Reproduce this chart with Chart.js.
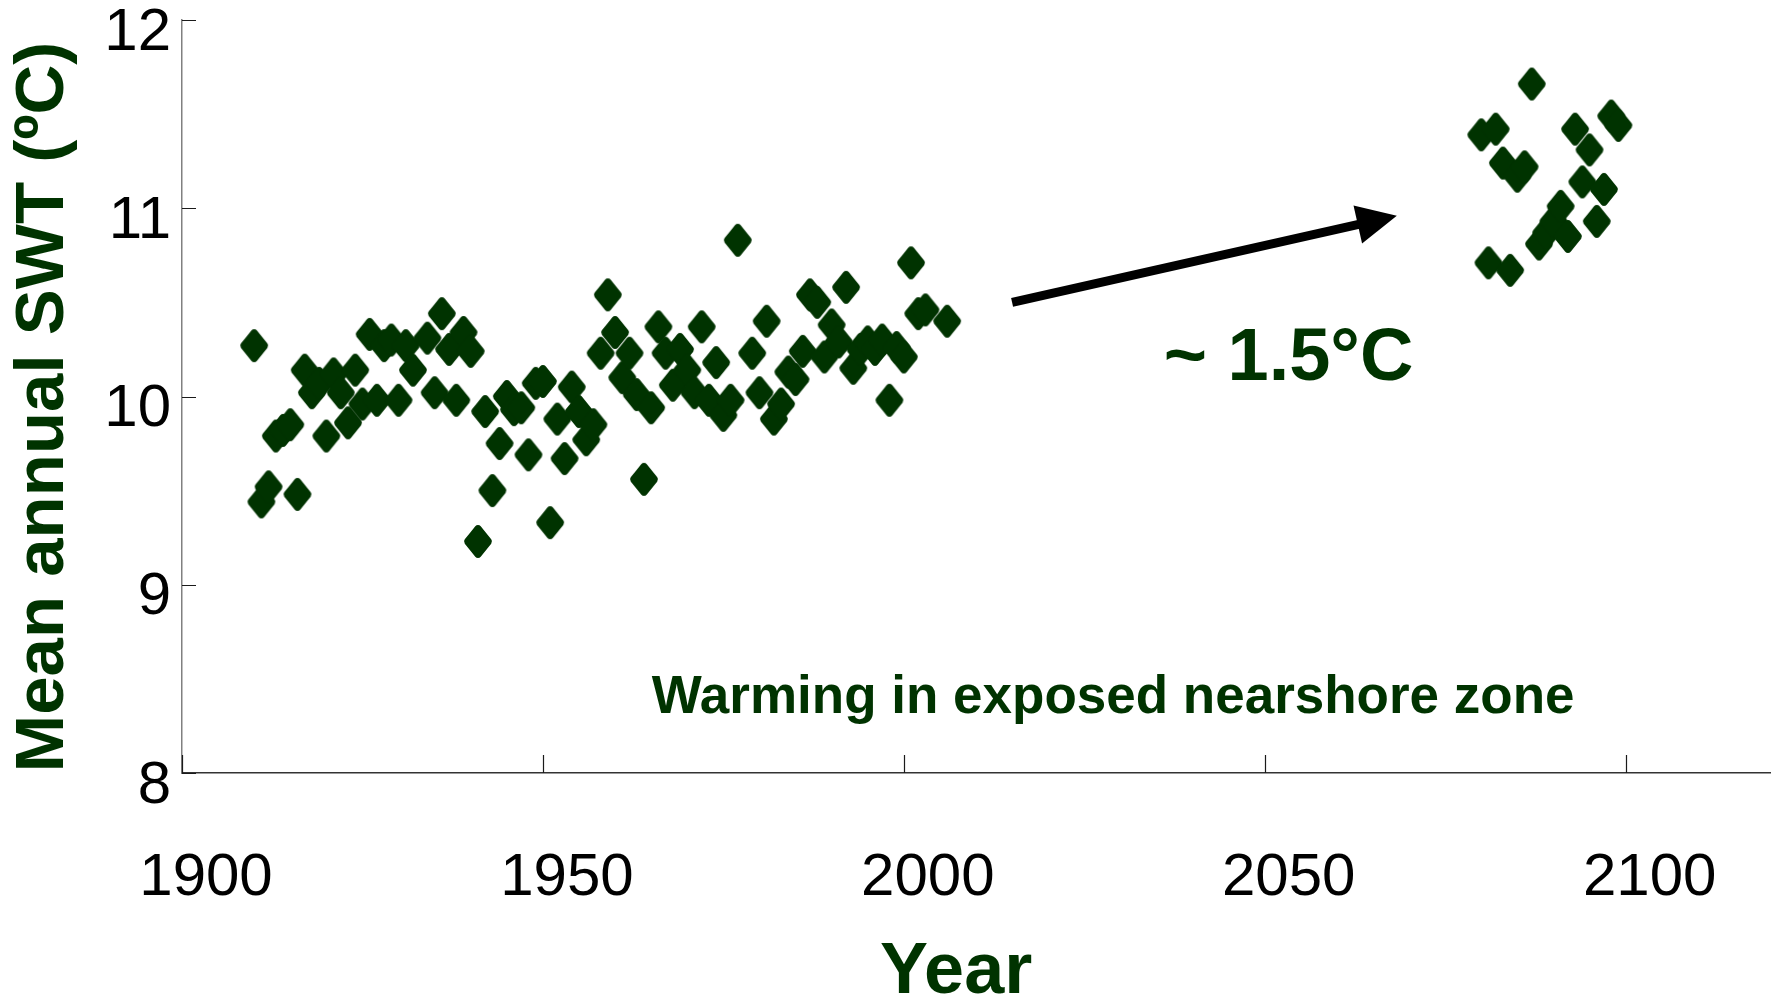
<!DOCTYPE html>
<html>
<head>
<meta charset="utf-8">
<title>Mean annual SWT</title>
<script src="https://cdn.jsdelivr.net/npm/chart.js@4.4.1/dist/chart.umd.min.js"></script>
<style>
  html, body { margin: 0; padding: 0; background: #ffffff; }
  canvas { display: block; }
</style>
</head>
<body>
<canvas id="swtChart" width="1772" height="998"></canvas>
<script>
// Observed mean annual surface water temperature (°C)
const obsYears = [
  1910, 1911, 1912, 1913, 1914, 1915, 1916, 1917, 1918, 1919,
  1920, 1921, 1922, 1923, 1924, 1925, 1926, 1927, 1928, 1929,
  1930, 1931, 1932, 1934, 1935, 1936, 1937, 1938, 1939, 1940,
  1941, 1942, 1943, 1944, 1945, 1946, 1947, 1948, 1949, 1950,
  1951, 1952, 1953, 1954, 1955, 1956, 1957, 1958, 1959, 1960,
  1961, 1962, 1963, 1964, 1965, 1966, 1967, 1968, 1969, 1970,
  1971, 1972, 1973, 1974, 1975, 1976, 1977, 1979, 1980, 1981,
  1982, 1983, 1984, 1985, 1986, 1987, 1988, 1989, 1990, 1991,
  1992, 1993, 1994, 1995, 1996, 1997, 1998, 1999, 2000, 2001,
  2002, 2003, 2006
];
const obsSWT = [
  10.27, 9.44, 9.52, 9.79, 9.82, 9.85, 9.48, 10.14, 10.02, 10.07,
  9.79, 10.12, 10.02, 9.86, 10.14, 9.96, 10.33, 9.98, 10.27, 10.30,
  9.98, 10.27, 10.14, 10.31, 10.02, 10.44, 10.25, 9.98, 10.34, 10.24,
  9.23, 9.92, 9.50, 9.75, 10.00, 9.93, 9.94, 9.69, 10.07, 10.08,
  9.33, 9.88, 9.67, 10.05, 9.92, 9.77, 9.85, 10.23, 10.54, 10.34,
  10.10, 10.23, 10.01, 9.56, 9.94, 10.37, 10.23, 10.06, 10.25, 10.14,
  10.02, 10.37, 9.98, 10.18, 9.90, 9.98, 10.83, 10.23, 10.02, 10.40,
  9.88, 9.96, 10.13, 10.09, 10.24, 10.54, 10.50, 10.21, 10.38, 10.29,
  10.58, 10.15, 10.25, 10.29, 10.25, 10.30, 9.98, 10.26, 10.21, 10.71,
  10.44, 10.46, 10.40
];

// Projected late-century values
const projYears = [
  2080, 2081, 2082, 2083, 2084, 2085, 2086, 2087, 2088, 2089,
  2090, 2091, 2092, 2093, 2094, 2095, 2096, 2097, 2098, 2099
];
const projSWT = [
  11.39, 10.71, 11.42, 11.24, 10.67, 11.17, 11.22, 11.66, 10.81, 10.87,
  10.93, 11.01, 10.85, 11.42, 11.14, 11.31, 10.93, 11.10, 11.49, 11.44
];

// Axis tick values
const yearTicks = [1900, 1950, 2000, 2050, 2100];
const swtTicks = [8, 9, 10, 11, 12];

// Annotation anchors, in axis units (year, °C)
const arrowFrom = { year: 2015, swt: 10.50 };
const arrowTo = { year: 2068.3, swt: 10.96 };
const deltaLabel = { text: '~ 1.5°C', year: 2053.3, swt: 10.09 };
const zoneLabel = { text: 'Warming in exposed nearshore zone', year: 2029.0, swt: 8.32 };

const xTitle = 'Year';
const yTitle = 'Mean annual SWT (ºC)';

const GREEN = '#003300';
const FONT = "'Liberation Sans', Arial, Helvetica, sans-serif";

// Rounded diamond marker, slightly taller than wide
function makeDiamond(w, h, r, color) {
  const c = document.createElement('canvas');
  c.width = w;
  c.height = h;
  const g = c.getContext('2d');
  const pts = [[w / 2, 0], [w, h / 2], [w / 2, h], [0, h / 2]];
  const start = [(pts[3][0] + pts[0][0]) / 2, (pts[3][1] + pts[0][1]) / 2];
  g.beginPath();
  g.moveTo(start[0], start[1]);
  for (let i = 0; i < 4; i++) {
    const p = pts[i];
    const n = pts[(i + 1) % 4];
    g.arcTo(p[0], p[1], n[0], n[1], r);
  }
  g.closePath();
  g.fillStyle = color;
  g.fill();
  return c;
}
const diamond = makeDiamond(30, 37, 3.5, GREEN);

const toPoints = (xs, ys) => xs.map((v, i) => ({ x: v, y: ys[i] }));

// Inward tick marks, axis titles, arrow and text annotations
const overlay = {
  id: 'overlay',
  afterDatasetsDraw(chart) {
    const { ctx, chartArea: a, scales: { x, y } } = chart;
    ctx.save();

    ctx.lineWidth = 1.2;
    ctx.strokeStyle = '#1a1a1a';
    ctx.beginPath();
    yearTicks.forEach(v => {
      const px = Math.round(x.getPixelForValue(v)) + 0.5;
      ctx.moveTo(px, a.bottom);
      ctx.lineTo(px, a.bottom - 18);
    });
    swtTicks.forEach(v => {
      const py = Math.round(y.getPixelForValue(v)) + 0.5;
      ctx.moveTo(a.left, py);
      ctx.lineTo(a.left + 14, py);
    });
    ctx.stroke();

    // arrow
    const x0 = x.getPixelForValue(arrowFrom.year), y0 = y.getPixelForValue(arrowFrom.swt);
    const x1 = x.getPixelForValue(arrowTo.year), y1 = y.getPixelForValue(arrowTo.swt);
    const ang = Math.atan2(y1 - y0, x1 - x0);
    const headLen = 40, headHalf = 19.5;
    const cs = Math.cos(ang), sn = Math.sin(ang);
    const bx = x1 - headLen * cs, by = y1 - headLen * sn;
    ctx.strokeStyle = '#000';
    ctx.fillStyle = '#000';
    ctx.lineWidth = 9;
    ctx.lineCap = 'butt';
    ctx.beginPath();
    ctx.moveTo(x0, y0);
    ctx.lineTo(bx + 2 * cs, by + 2 * sn);
    ctx.stroke();
    ctx.beginPath();
    ctx.moveTo(x1, y1);
    ctx.lineTo(bx - headHalf * sn, by + headHalf * cs);
    ctx.lineTo(bx + headHalf * sn, by - headHalf * cs);
    ctx.closePath();
    ctx.fill();

    // in-plot labels
    ctx.fillStyle = GREEN;
    ctx.textAlign = 'center';
    ctx.textBaseline = 'alphabetic';
    ctx.font = 'bold 74px ' + FONT;
    ctx.fillText(deltaLabel.text, x.getPixelForValue(deltaLabel.year), y.getPixelForValue(deltaLabel.swt));
    ctx.font = 'bold 53px ' + FONT;
    ctx.fillText(zoneLabel.text, x.getPixelForValue(zoneLabel.year), y.getPixelForValue(zoneLabel.swt));

    // axis titles
    ctx.font = 'bold 72px ' + FONT;
    ctx.fillText(xTitle, a.left + 0.4875 * (a.right - a.left), chart.height - 5);
    ctx.save();
    ctx.translate(63, a.top + 0.514 * (a.bottom - a.top));
    ctx.rotate(-Math.PI / 2);
    ctx.font = 'bold 69px ' + FONT;
    ctx.fillText(yTitle, 0, 0);
    ctx.restore();

    ctx.restore();
  }
};

new Chart(document.getElementById('swtChart'), {
  type: 'scatter',
  data: {
    datasets: [
      {
        label: 'Observed',
        data: toPoints(obsYears, obsSWT),
        pointStyle: diamond,
        pointRadius: 14,
        backgroundColor: GREEN,
        borderColor: GREEN
      },
      {
        label: 'Projected',
        data: toPoints(projYears, projSWT),
        pointStyle: diamond,
        pointRadius: 14,
        backgroundColor: GREEN,
        borderColor: GREEN
      }
    ]
  },
  options: {
    responsive: false,
    animation: false,
    events: [],
    layout: { autoPadding: false, padding: { left: 0, top: 20, right: 2, bottom: 0 } },
    plugins: {
      legend: { display: false },
      tooltip: { enabled: false }
    },
    scales: {
      x: {
        type: 'linear',
        position: 'bottom',
        min: 1900,
        max: 2120,
        afterBuildTicks: s => { s.ticks = yearTicks.map(v => ({ value: v })); },
        afterFit: s => { s.height = 225; s.paddingLeft = 0; s.paddingRight = 0; },
        ticks: {
          color: '#000',
          font: { family: FONT, size: 60 },
          labelOffset: 24,
          padding: 69,
          maxRotation: 0,
          autoSkip: false,
          callback: v => String(v)
        },
        grid: { display: false, drawOnChartArea: false, drawTicks: false },
        border: { display: true, color: '#333333', width: 1.5 },
        title: { display: false }
      },
      y: {
        type: 'linear',
        position: 'left',
        min: 8,
        max: 12,
        afterBuildTicks: s => { s.ticks = swtTicks.map(v => ({ value: v })); },
        afterFit: s => { s.width = 182; s.paddingTop = 0; s.paddingBottom = 0; },
        ticks: {
          color: '#000',
          font: { family: FONT, size: 60 },
          labelOffset: 13,
          padding: 11,
          autoSkip: false,
          callback: v => String(v)
        },
        grid: { display: false, drawOnChartArea: false, drawTicks: false },
        border: { display: true, color: '#808080', width: 1.5 },
        title: { display: false }
      }
    }
  },
  plugins: [overlay]
});
</script>
</body>
</html>
